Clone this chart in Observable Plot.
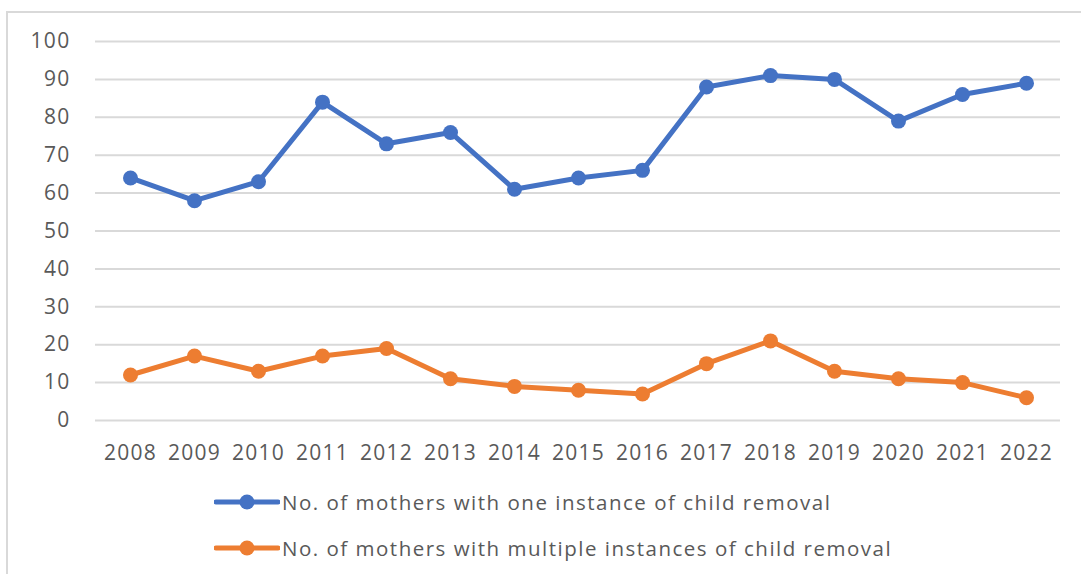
<!DOCTYPE html>
<html>
<head>
<meta charset="utf-8">
<script src="https://cdn.jsdelivr.net/npm/d3@7"></script>
<script src="https://cdn.jsdelivr.net/npm/@observablehq/plot@0.6"></script>
<style>
  body { margin: 0; background: #fff; font-family: "Open Sans", sans-serif; }
  #frame { position: absolute; left: 6px; top: 11px; width: 1100px; height: 600px;
           border: 2px solid #d9d9d9; box-sizing: border-box; }
  #chart { position: absolute; left: 0; top: 0; }
  #chart svg text { letter-spacing: 1.3px; }
  .legend-row { position: absolute; left: 214px; display: flex; align-items: center;
                font-size: 20.5px; letter-spacing: 1.5px; color: #595959; white-space: nowrap; }
  .legend-row svg { display: block; margin-right: 2px; }
</style>
</head>
<body>
<div id="frame"></div>
<div id="chart"></div>
<div id="legend"></div>
<script>
// Years on the category axis
const years = [2008, 2009, 2010, 2011, 2012, 2013, 2014, 2015, 2016, 2017, 2018, 2019, 2020, 2021, 2022];

// Mothers with a single recorded child removal
const oneInstance = [64, 58, 63, 84, 73, 76, 61, 64, 66, 88, 91, 90, 79, 86, 89];

// Mothers with repeated child removals
const multipleInstances = [12, 17, 13, 17, 19, 11, 9, 8, 7, 15, 21, 13, 11, 10, 6];

const seriesNames = [
  "No. of mothers with one instance of child removal",
  "No. of mothers with multiple instances of child removal"
];
const seriesColors = ["#4472C4", "#ED7D31"];
const yTicks = [0, 10, 20, 30, 40, 50, 60, 70, 80, 90, 100];

const rows = [];
years.forEach((y, i) => {
  rows.push({year: String(y), value: oneInstance[i], series: seriesNames[0]});
  rows.push({year: String(y), value: multipleInstances[i], series: seriesNames[1]});
});

const chart = Plot.plot({
  width: 1081,
  height: 470,
  marginLeft: 95,
  marginRight: 21,
  marginTop: 41,
  marginBottom: 50,
  style: {fontFamily: "'Open Sans', sans-serif", fontSize: "21px", color: "#595959", background: "transparent"},
  x: {type: "point", domain: years.map(String), padding: 0.5},
  y: {domain: [0, 100]},
  color: {domain: seriesNames, range: seriesColors},
  marks: [
    Plot.gridY(yTicks, {stroke: "#d9d9d9", strokeOpacity: 1, strokeWidth: 2}),
    Plot.axisY(yTicks, {tickSize: 0, tickPadding: 25, label: null, fill: "#595959", fontSize: 21}),
    Plot.axisX({tickSize: 0, tickPadding: 25, label: null, fill: "#595959", fontSize: 21}),
    Plot.line(rows, {x: "year", y: "value", z: "series", stroke: "series", strokeWidth: 5, strokeLinejoin: "round"}),
    Plot.dot(rows, {x: "year", y: "value", fill: "series", r: 7.5})
  ]
});
document.getElementById("chart").appendChild(chart);

// Legend beneath the chart
const legend = document.getElementById("legend");
const legendTops = [502, 548];
seriesNames.forEach((name, i) => {
  const row = document.createElement("div");
  row.className = "legend-row";
  row.style.top = (legendTops[i] - 15) + "px";
  row.style.height = "30px";
  row.innerHTML =
    `<svg width="66" height="20"><line x1="2" x2="64" y1="10" y2="10" stroke="${seriesColors[i]}" stroke-width="5" stroke-linecap="round"/>` +
    `<circle cx="33" cy="10" r="7.5" fill="${seriesColors[i]}"/></svg><span>${name}</span>`;
  legend.appendChild(row);
});
</script>
</body>
</html>
